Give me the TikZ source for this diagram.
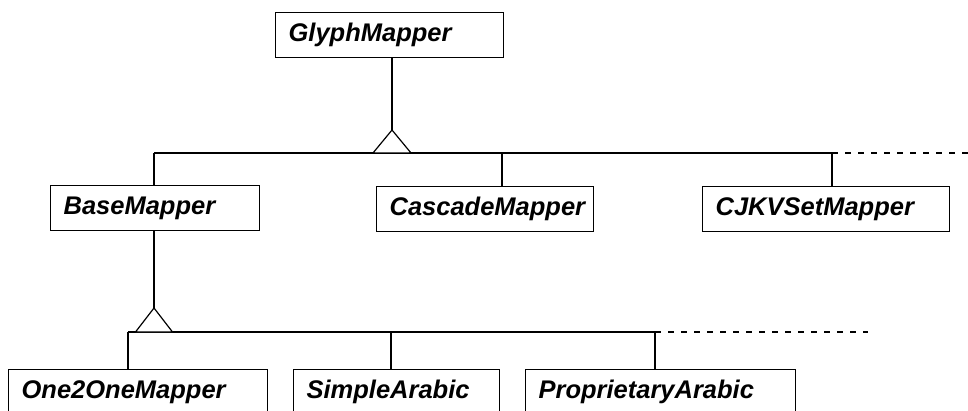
\documentclass[tikz,border=0pt]{standalone}
\usepackage{fontspec}
\setmainfont{Liberation Sans}
\usepackage{tikz}
\tikzset{
  classbox/.style={draw, anchor=north west, inner xsep=13pt, minimum height=45pt,
    text height=18pt, text depth=5pt, align=left,
    font=\fontsize{25.5}{30}\selectfont\bfseries\itshape},
  inherit/.style={draw, fill=white},
  more/.style={dash pattern=on 6pt off 7pt}
}

\begin{document}
\begin{tikzpicture}[x=1pt,y=-1pt,line width=1.2pt]
\clip (0,0) rectangle (968,411);
\node[classbox, text width=202pt] (glyph) at (275,12) {GlyphMapper};
\node[classbox, text width=183pt] (base) at (50,185) {BaseMapper};
\node[classbox, text width=191pt] (cascade) at (376,186) {CascadeMapper};
\node[classbox, text width=221pt] (cjkv) at (702,186) {CJKVSetMapper};
\node[classbox, text width=233pt] (one2one) at (8,369) {One2OneMapper};
\node[classbox, text width=180pt] (simple) at (293,369) {SimpleArabic};
\node[classbox, text width=244pt] (proprietary) at (525,369) {ProprietaryArabic};

\coordinate (top1) at (392,130);
\coordinate (j1) at (154,153);
\coordinate (j2) at (502,153);
\coordinate (j3) at (832,153);
\coordinate (end1) at (968,153);
\coordinate (top2) at (154,308);
\coordinate (k1) at (128,332);
\coordinate (k2) at (391,332);
\coordinate (k3) at (655,332);
\coordinate (end2) at (868,332);

\draw (glyph.south -| top1) -- (top1);
\draw (j1) -- (j3);
\draw[more] (j3) -- (end1);
\draw[inherit] (top1) -- ++(-19,23) -- ++(38,0) -- cycle;
\draw (j1) -- (j1 |- base.north);
\draw (j2) -- (j2 |- cascade.north);
\draw (j3) -- (j3 |- cjkv.north);

\draw (base.south -| top2) -- (top2);
\draw (k1) -- (k3);
\draw[more] (k3) -- (end2);
\draw[inherit] (top2) -- ++(-18.5,24) -- ++(37,0) -- cycle;
\draw (k1) -- (k1 |- one2one.north);
\draw (k2) -- (k2 |- simple.north);
\draw (k3) -- (k3 |- proprietary.north);
\end{tikzpicture}
\end{document}
